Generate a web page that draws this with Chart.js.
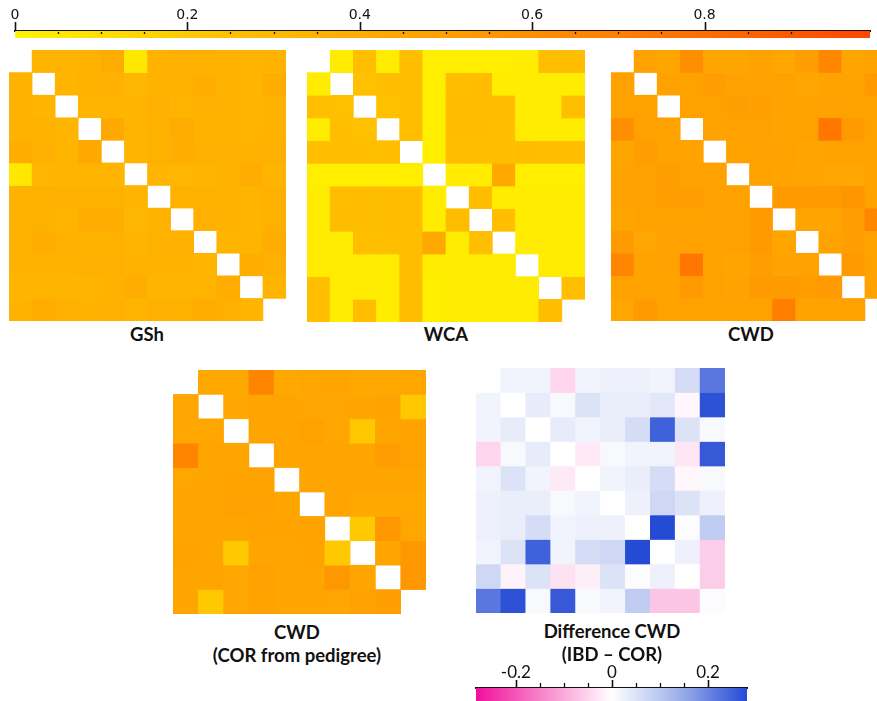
<!DOCTYPE html>
<html>
<head>
<meta charset="utf-8">
<script src="https://cdn.jsdelivr.net/npm/chart.js@4.4.1/dist/chart.umd.min.js"></script>
<style>
  body { margin: 0; background: #fff; width: 877px; height: 701px; overflow: hidden; position: relative; font-family: Lato, "Open Sans", sans-serif; }
  canvas { position: absolute; }
  .lbl { position: absolute; transform: translate(-50%, -50%); font-weight: bold; font-size: 18.5px; color: #111; white-space: nowrap; }
</style>
</head>
<body>
<canvas id="topBar" width="877" height="38" style="left:0;top:0"></canvas>
<canvas id="gsh" width="277" height="271" style="left:9px;top:50px"></canvas>
<canvas id="wca" width="278" height="272" style="left:307px;top:50px"></canvas>
<canvas id="cwd" width="277" height="271" style="left:611px;top:50px"></canvas>
<canvas id="cwdCor" width="253" height="244" style="left:173px;top:370px"></canvas>
<canvas id="diff" width="249" height="245" style="left:476px;top:368px"></canvas>
<canvas id="bottomBar" width="300" height="41" style="left:460px;top:660px"></canvas>

<div class="lbl" style="left:147px;top:334px">GSh</div>
<div class="lbl" style="left:446px;top:334px">WCA</div>
<div class="lbl" style="left:751px;top:334px">CWD</div>
<div class="lbl" style="left:297px;top:632px">CWD</div>
<div class="lbl" style="left:297px;top:655px">(COR from pedigree)</div>
<div class="lbl" style="left:612px;top:631px">Difference CWD</div>
<div class="lbl" style="left:612px;top:654px">(IBD – COR)</div>

<script>
// relatedness matrices (diagonal left empty)
var gshValues = [
  [null,0.33,0.33,0.35,0.40,0.05,0.35,0.37,0.36,0.35,0.33,0.35],
  [0.35,null,0.33,0.36,0.37,0.32,0.36,0.36,0.38,0.35,0.33,0.38],
  [0.35,0.34,null,0.34,0.34,0.33,0.37,0.33,0.37,0.35,0.34,0.35],
  [0.35,0.36,0.34,null,0.43,0.33,0.36,0.40,0.36,0.35,0.34,0.35],
  [0.39,0.37,0.34,0.43,null,0.33,0.36,0.39,0.37,0.37,0.35,0.37],
  [0.05,0.32,0.33,0.33,0.33,null,0.33,0.32,0.33,0.35,0.39,0.33],
  [0.35,0.36,0.37,0.36,0.36,0.33,null,0.36,0.36,0.35,0.34,0.37],
  [0.36,0.36,0.33,0.39,0.39,0.32,0.36,null,0.37,0.35,0.34,0.36],
  [0.36,0.38,0.37,0.36,0.36,0.33,0.36,0.37,null,0.33,0.33,0.39],
  [0.35,0.35,0.35,0.37,0.37,0.35,0.35,0.35,0.33,null,0.39,0.37],
  [0.34,0.33,0.33,0.34,0.35,0.39,0.34,0.34,0.34,0.39,null,0.34],
  [0.35,0.38,0.37,0.35,0.37,0.33,0.37,0.36,0.39,0.37,0.34,null]
];

var wcaValues = [
  [null,0.03,0.26,0.03,0.26,0.02,0.02,0.02,0.02,0.03,0.26,0.27],
  [0.03,null,0.25,0.26,0.26,0.02,0.26,0.28,0.03,0.03,0.03,0.03],
  [0.26,0.25,null,0.25,0.26,0.02,0.27,0.27,0.28,0.03,0.03,0.26],
  [0.03,0.26,0.25,null,0.26,0.02,0.27,0.27,0.26,0.03,0.03,0.03],
  [0.26,0.26,0.26,0.26,null,0.02,0.26,0.26,0.26,0.27,0.26,0.26],
  [0.02,0.02,0.02,0.02,0.02,null,0.03,0.03,0.43,0.02,0.02,0.02],
  [0.03,0.26,0.27,0.27,0.26,0.03,null,0.27,0.03,0.03,0.03,0.03],
  [0.03,0.27,0.27,0.27,0.26,0.03,0.27,null,0.26,0.03,0.03,0.03],
  [0.03,0.03,0.26,0.26,0.26,0.43,0.03,0.26,null,0.03,0.03,0.03],
  [0.03,0.03,0.03,0.03,0.26,0.03,0.03,0.03,0.03,null,0.03,0.03],
  [0.26,0.03,0.03,0.03,0.26,0.02,0.03,0.03,0.03,0.03,null,0.26],
  [0.26,0.03,0.26,0.03,0.26,0.02,0.03,0.03,0.03,0.03,0.26,null]
];

var cwdValues = [
  [null,0.47,0.45,0.60,0.45,0.45,0.47,0.44,0.50,0.65,0.45,0.46],
  [0.47,null,0.47,0.47,0.50,0.48,0.48,0.47,0.44,0.46,0.46,0.52],
  [0.46,0.47,null,0.47,0.47,0.50,0.49,0.46,0.47,0.48,0.47,0.47],
  [0.60,0.48,0.47,null,0.46,0.48,0.48,0.46,0.47,0.75,0.52,0.47],
  [0.45,0.50,0.46,0.46,null,0.47,0.48,0.47,0.45,0.46,0.47,0.47],
  [0.46,0.48,0.50,0.48,0.47,null,0.47,0.46,0.45,0.44,0.44,0.47],
  [0.47,0.48,0.50,0.50,0.48,0.47,null,0.52,0.52,0.52,0.55,0.47],
  [0.45,0.47,0.46,0.46,0.48,0.47,0.52,null,0.45,0.45,0.50,0.65],
  [0.52,0.44,0.48,0.48,0.46,0.48,0.52,0.45,null,0.48,0.50,0.47],
  [0.65,0.46,0.48,0.75,0.46,0.45,0.50,0.46,0.48,null,0.52,0.47],
  [0.47,0.47,0.47,0.52,0.47,0.46,0.52,0.52,0.51,0.52,null,0.47],
  [0.44,0.52,0.47,0.47,0.47,0.47,0.47,0.70,0.46,0.47,0.47,null]
];

var cwdCorValues = [
  [null,0.43,0.43,0.66,0.43,0.44,0.45,0.42,0.43,0.44],
  [0.44,null,0.44,0.45,0.45,0.44,0.44,0.45,0.46,0.21],
  [0.44,0.44,null,0.45,0.45,0.47,0.44,0.21,0.45,0.46],
  [0.66,0.45,0.45,null,0.45,0.45,0.45,0.45,0.50,0.48],
  [0.44,0.45,0.46,0.47,null,0.45,0.45,0.45,0.45,0.45],
  [0.45,0.45,0.48,0.48,0.45,null,0.45,0.43,0.43,0.43],
  [0.45,0.45,0.45,0.46,0.46,0.46,null,0.21,0.54,0.44],
  [0.46,0.45,0.21,0.45,0.45,0.46,0.21,null,0.45,0.54],
  [0.45,0.45,0.44,0.48,0.45,0.45,0.54,0.45,null,0.54],
  [0.45,0.21,0.44,0.47,0.45,0.45,0.44,0.48,0.50,null]
];

// IBD - COR
var diffValues = [
  [0.00,0.02,0.02,-0.05,0.02,0.025,0.025,0.02,0.06,0.22],
  [0.02,0.00,0.035,0.01,0.05,0.03,0.03,0.04,-0.01,0.27],
  [0.02,0.035,0.00,0.035,0.02,0.03,0.06,0.25,0.05,0.01],
  [-0.05,0.01,0.035,0.00,-0.025,0.01,0.02,0.02,-0.03,0.26],
  [0.02,0.05,0.02,-0.025,0.00,0.02,0.03,0.06,-0.01,0.01],
  [0.025,0.03,0.03,0.01,0.02,0.00,0.025,0.07,0.05,0.025],
  [0.025,0.03,0.06,0.02,0.025,0.025,0.00,0.28,0.005,0.09],
  [0.02,0.05,0.25,0.02,0.06,0.07,0.28,0.00,0.025,-0.06],
  [0.07,-0.015,0.05,-0.035,-0.02,0.05,0.005,0.025,0.00,-0.06],
  [0.22,0.27,0.01,0.26,0.01,0.02,0.09,-0.07,-0.07,0.005]
];

// colour scales
var warmStops = [0, 0.25, 0.5, 0.75, 1];
var warmColors = [[255,242,0],[255,192,0],[255,158,0],[255,118,0],[255,68,0]];
var divStops = [-0.3, -0.15, 0, 0.15, 0.3];
var divColors = [[240,0,150],[248,130,200],[255,255,255],[150,170,232],[20,60,210]];

var warmRange = [0, 0.992];
var divRange = [-0.283, 0.281];

function rgb(c) { return 'rgb(' + c.map(Math.round).join(',') + ')'; }

function mapColor(stops, colors) {
  return function (v) {
    if (v <= stops[0]) return rgb(colors[0]);
    for (var k = 1; k < stops.length; k++) {
      if (v <= stops[k]) {
        var t = (v - stops[k - 1]) / (stops[k] - stops[k - 1]);
        var a = colors[k - 1], b = colors[k];
        return rgb([a[0] + (b[0] - a[0]) * t, a[1] + (b[1] - a[1]) * t, a[2] + (b[2] - a[2]) * t]);
      }
    }
    return rgb(colors[colors.length - 1]);
  };
}

var warm = mapColor(warmStops, warmColors);
var diverging = mapColor(divStops, divColors);

// each row of the matrix is one dataset of floating bars
function heatmap(id, matrix, colorOf) {
  var n = matrix.length;
  var cols = matrix[0].map(function (_, j) { return 'c' + (j + 1); });
  var datasets = matrix.map(function (row, i) {
    return {
      data: row.map(function (v) { return v === null ? null : [i, i + 1]; }),
      backgroundColor: row.map(function (v) { return v === null ? 'rgba(0,0,0,0)' : colorOf(v); }),
      borderWidth: 0,
      barPercentage: 1,
      categoryPercentage: 1,
      grouped: false
    };
  });
  return new Chart(document.getElementById(id), {
    type: 'bar',
    data: { labels: cols, datasets: datasets },
    options: {
      responsive: false,
      animation: false,
      layout: { padding: 0 },
      plugins: { legend: { display: false }, tooltip: { enabled: false } },
      scales: {
        x: { display: false },
        y: { display: false, min: 0, max: n, reverse: true }
      }
    }
  });
}

function near(v, step) { return Math.abs(v / step - Math.round(v / step)) < 1e-6; }

// tick marks: long ones at 0.2 steps, short ones every 0.05
var barTicks = {
  id: 'barTicks',
  afterDraw: function (chart, args, o) {
    var xs = chart.scales.x, c = chart.ctx;
    c.save();
    c.strokeStyle = '#111';
    xs.ticks.forEach(function (t) {
      if (!near(t.value, 0.05)) return;
      var major = near(t.value, 0.2);
      var px = Math.round(xs.getPixelForValue(t.value)) + 0.5;
      c.lineWidth = major ? 1.6 : 1.3;
      c.beginPath();
      c.moveTo(px, xs.bottom + (major ? o.majorFrom : o.minorFrom));
      c.lineTo(px, xs.bottom + (major ? o.majorTo : o.minorTo));
      c.stroke();
    });
    c.restore();
  }
};

function colorBar(id, range, stops, colors, cfg) {
  return new Chart(document.getElementById(id), {
    type: 'bar',
    data: {
      labels: [''],
      datasets: [{
        data: [range],
        borderWidth: 0,
        barPercentage: 1,
        categoryPercentage: 1,
        backgroundColor: function (ctx) {
          var chart = ctx.chart;
          if (!chart.chartArea) return null;
          var xs = chart.scales.x;
          var first = stops[0], last = stops[stops.length - 1];
          var g = chart.ctx.createLinearGradient(xs.getPixelForValue(first), 0, xs.getPixelForValue(last), 0);
          stops.forEach(function (s, k) { g.addColorStop((s - first) / (last - first), rgb(colors[k])); });
          return g;
        }
      }]
    },
    options: {
      indexAxis: 'y',
      responsive: false,
      animation: false,
      layout: { padding: cfg.padding },
      plugins: { legend: { display: false }, tooltip: { enabled: false }, barTicks: cfg.ticks },
      scales: {
        y: { display: false },
        x: {
          type: 'linear',
          position: 'top',
          min: range[0],
          max: range[1],
          afterFit: function (s) { s.height = cfg.axisHeight; },
          border: { display: true, color: '#111', width: 2 },
          grid: { drawOnChartArea: false, drawTicks: false },
          ticks: {
            stepSize: 0.05,
            autoSkip: false,
            maxRotation: 0,
            padding: cfg.labelPad,
            color: '#111',
            font: cfg.font,
            callback: function (v) {
              if (!near(v, 0.2)) return '';
              return String(Math.round(v * 10) / 10);
            }
          }
        }
      }
    },
    plugins: [barTicks]
  });
}

heatmap('gsh', gshValues, warm);
heatmap('wca', wcaValues, warm);
heatmap('cwd', cwdValues, warm);
heatmap('cwdCor', cwdCorValues, warm);
heatmap('diff', diffValues, diverging);

colorBar('topBar', warmRange, warmStops, warmColors, {
  padding: { left: 15, right: 0, top: 0, bottom: 0 },
  axisHeight: 31, labelPad: 7,
  font: { family: 'DejaVu Sans', size: 14 },
  ticks: { majorFrom: -9, majorTo: 0, minorFrom: 1, minorTo: 3 }
});

colorBar('bottomBar', divRange, divStops, divColors, {
  padding: { left: 16, right: 13, top: 0, bottom: 0 },
  axisHeight: 28, labelPad: 5,
  font: { family: 'Lato', size: 17 },
  ticks: { majorFrom: -8, majorTo: 0, minorFrom: -5, minorTo: 0 }
});
</script>
</body>
</html>
